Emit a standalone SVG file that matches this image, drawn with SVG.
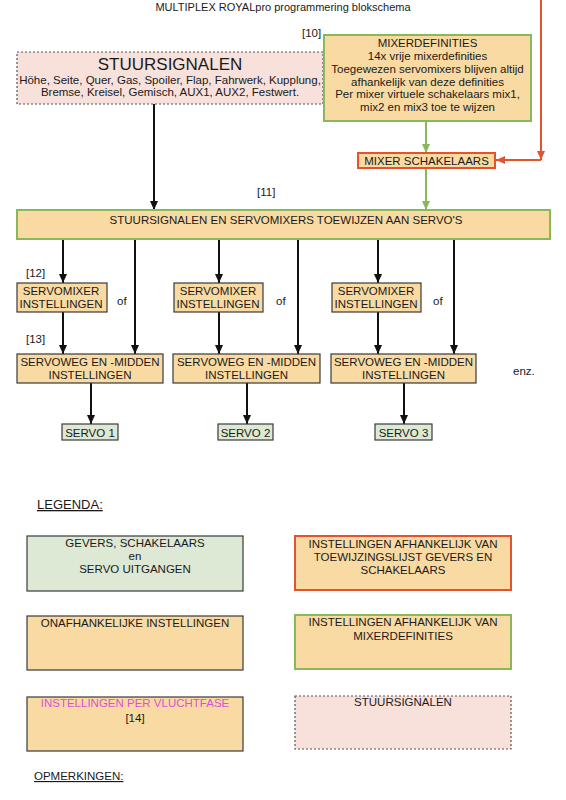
<svg xmlns="http://www.w3.org/2000/svg" width="566" height="800" viewBox="0 0 566 800">
<style>
text{font-family:"Liberation Sans",Arial,Helvetica,sans-serif;font-size:11.5px;fill:#1a1a1a;text-anchor:middle}
.l{text-anchor:start}
.or{fill:#f9daa2}
.gb{stroke:#88b85a;stroke-width:2}
.rb{stroke:#e4532e;stroke-width:2}
.db{stroke:#3a3a3a;stroke-width:1.2}
.pk{fill:#f8e1da;stroke:#555;stroke-width:1.2;stroke-dasharray:2 2}
.gf{fill:#dde9d4}
.bl{stroke:#111;stroke-width:2;fill:none;marker-end:url(#ab)}
.gl{stroke:#88b85a;stroke-width:2;fill:none;marker-end:url(#ag)}
.rl{stroke:#e4532e;stroke-width:2;fill:none;marker-end:url(#ar)}
</style>
<defs>
<marker id="ab" markerUnits="userSpaceOnUse" markerWidth="9" markerHeight="8" refX="9" refY="4" orient="auto"><path d="M0,0 L9,4 L0,8 z" fill="#111"/></marker>
<marker id="ag" markerUnits="userSpaceOnUse" markerWidth="9" markerHeight="8" refX="9" refY="4" orient="auto"><path d="M0,0 L9,4 L0,8 z" fill="#88b85a"/></marker>
<marker id="ar" markerUnits="userSpaceOnUse" markerWidth="9" markerHeight="8" refX="9" refY="4" orient="auto"><path d="M0,0 L9,4 L0,8 z" fill="#e4532e"/></marker>
</defs>
<rect width="566" height="800" fill="#fff"/>
<text x="283" y="11" style="font-size:11px">MULTIPLEX ROYALpro programmering blokschema</text>
<text class="l" x="302" y="37">[10]</text>
<text class="l" x="257" y="196">[11]</text>
<text class="l" x="26" y="277">[12]</text>
<text class="l" x="26" y="343">[13]</text>
<text class="l" x="117" y="305">of</text>
<text class="l" x="276" y="305">of</text>
<text class="l" x="433" y="305">of</text>
<text class="l" x="513" y="375">enz.</text>

<g id="connectors">
<line class="bl" x1="154" y1="104" x2="154" y2="210"/>
<line class="gl" x1="426" y1="121" x2="426" y2="153"/>
<line class="gl" x1="426" y1="168" x2="426" y2="210"/>
<line class="rl" x1="541" y1="0" x2="541" y2="160"/>
<line class="rl" x1="541" y1="160" x2="496" y2="160"/>
<line class="bl" x1="63" y1="239" x2="63" y2="283"/>
<line class="bl" x1="63" y1="312" x2="63" y2="354"/>
<line class="bl" x1="135" y1="239" x2="135" y2="354"/>
<line class="bl" x1="91" y1="383" x2="91" y2="424"/>
<line class="bl" x1="219" y1="239" x2="219" y2="283"/>
<line class="bl" x1="219" y1="312" x2="219" y2="354"/>
<line class="bl" x1="298" y1="239" x2="298" y2="354"/>
<line class="bl" x1="247" y1="383" x2="247" y2="424"/>
<line class="bl" x1="378" y1="239" x2="378" y2="283"/>
<line class="bl" x1="378" y1="312" x2="378" y2="354"/>
<line class="bl" x1="454" y1="239" x2="454" y2="354"/>
<line class="bl" x1="404" y1="383" x2="404" y2="424"/>
</g>

<g id="stuursignalen">
<rect class="pk" x="17" y="52" width="306" height="52"/>
<text x="170" y="69.5" style="font-size:17px">STUURSIGNALEN</text>
<text x="170" y="84">Höhe, Seite, Quer, Gas, Spoiler, Flap, Fahrwerk, Kupplung,</text>
<text x="170" y="96">Bremse, Kreisel, Gemisch, AUX1, AUX2, Festwert.</text>
</g>

<g id="mixerdefinities">
<rect class="or gb" x="324" y="35" width="207" height="86"/>
<text x="427.5" y="47">MIXERDEFINITIES</text>
<text x="427.5" y="60">14x vrije mixerdefinities</text>
<text x="427.5" y="73">Toegewezen servomixers blijven altijd</text>
<text x="427.5" y="86">afhankelijk van deze definities</text>
<text x="427.5" y="98">Per mixer virtuele schakelaars mix1,</text>
<text x="427.5" y="111">mix2 en mix3 toe te wijzen</text>
</g>

<g id="mixer-schakelaars">
<rect class="or rb" x="358" y="153" width="137" height="15"/>
<text x="426.5" y="165">MIXER SCHAKELAARS</text>
</g>

<g id="toewijzen">
<rect class="or gb" x="17" y="210" width="533" height="29"/>
<text x="286" y="224">STUURSIGNALEN EN SERVOMIXERS TOEWIJZEN AAN SERVO'S</text>
</g>

<g id="servomixer1">
<rect class="or db" x="17" y="283" width="90" height="29"/>
<text x="61" y="295">SERVOMIXER</text>
<text x="61" y="308">INSTELLINGEN</text>
</g>
<g id="servomixer2">
<rect class="or db" x="174" y="283" width="89" height="29"/>
<text x="218" y="295">SERVOMIXER</text>
<text x="218" y="308">INSTELLINGEN</text>
</g>
<g id="servomixer3">
<rect class="or db" x="332" y="283" width="89" height="29"/>
<text x="376" y="295">SERVOMIXER</text>
<text x="376" y="308">INSTELLINGEN</text>
</g>

<g id="servoweg1">
<rect class="or db" x="17" y="354" width="146" height="29"/>
<text x="90" y="366">SERVOWEG EN -MIDDEN</text>
<text x="90" y="379">INSTELLINGEN</text>
</g>
<g id="servoweg2">
<rect class="or db" x="173" y="354" width="147" height="29"/>
<text x="246.5" y="366">SERVOWEG EN -MIDDEN</text>
<text x="246.5" y="379">INSTELLINGEN</text>
</g>
<g id="servoweg3">
<rect class="or db" x="331" y="354" width="145" height="29"/>
<text x="403.5" y="366">SERVOWEG EN -MIDDEN</text>
<text x="403.5" y="379">INSTELLINGEN</text>
</g>

<g id="servo1">
<rect class="gf db" x="62" y="424" width="56" height="16"/>
<text x="90" y="436.5">SERVO 1</text>
</g>
<g id="servo2">
<rect class="gf db" x="218" y="424" width="55" height="16"/>
<text x="245.5" y="436.5">SERVO 2</text>
</g>
<g id="servo3">
<rect class="gf db" x="375" y="424" width="57" height="16"/>
<text x="403.5" y="436.5">SERVO 3</text>
</g>

<g id="legenda">
<text class="l" x="37" y="509" style="font-size:13px;text-decoration:underline">LEGENDA:</text>
<g id="leg-gevers">
<rect class="gf db" x="27" y="536" width="216" height="55"/>
<text x="135" y="547">GEVERS, SCHAKELAARS</text>
<text x="135" y="560">en</text>
<text x="135" y="573">SERVO UITGANGEN</text>
</g>
<g id="leg-toewijzing">
<rect class="or rb" x="295" y="536" width="216" height="54"/>
<text x="403" y="548">INSTELLINGEN AFHANKELIJK VAN</text>
<text x="403" y="561">TOEWIJZINGSLIJST GEVERS EN</text>
<text x="403" y="574">SCHAKELAARS</text>
</g>
<g id="leg-onafhankelijk">
<rect class="or db" x="27" y="616" width="216" height="54"/>
<text x="135" y="627">ONAFHANKELIJKE INSTELLINGEN</text>
</g>
<g id="leg-mixerdef">
<rect class="or gb" x="295" y="615" width="216" height="54"/>
<text x="403" y="626">INSTELLINGEN AFHANKELIJK VAN</text>
<text x="403" y="640">MIXERDEFINITIES</text>
</g>
<g id="leg-vluchtfase">
<rect class="or db" x="27" y="697" width="216" height="54"/>
<text x="135" y="707" style="fill:#dc4fdc">INSTELLINGEN PER VLUCHTFASE</text>
<text x="135" y="722">[14]</text>
</g>
<g id="leg-stuursignalen">
<rect class="pk" x="295" y="696" width="216" height="53"/>
<text x="403" y="706">STUURSIGNALEN</text>
</g>
<text class="l" x="34" y="780" style="text-decoration:underline">OPMERKINGEN:</text>
</g>
</svg>
